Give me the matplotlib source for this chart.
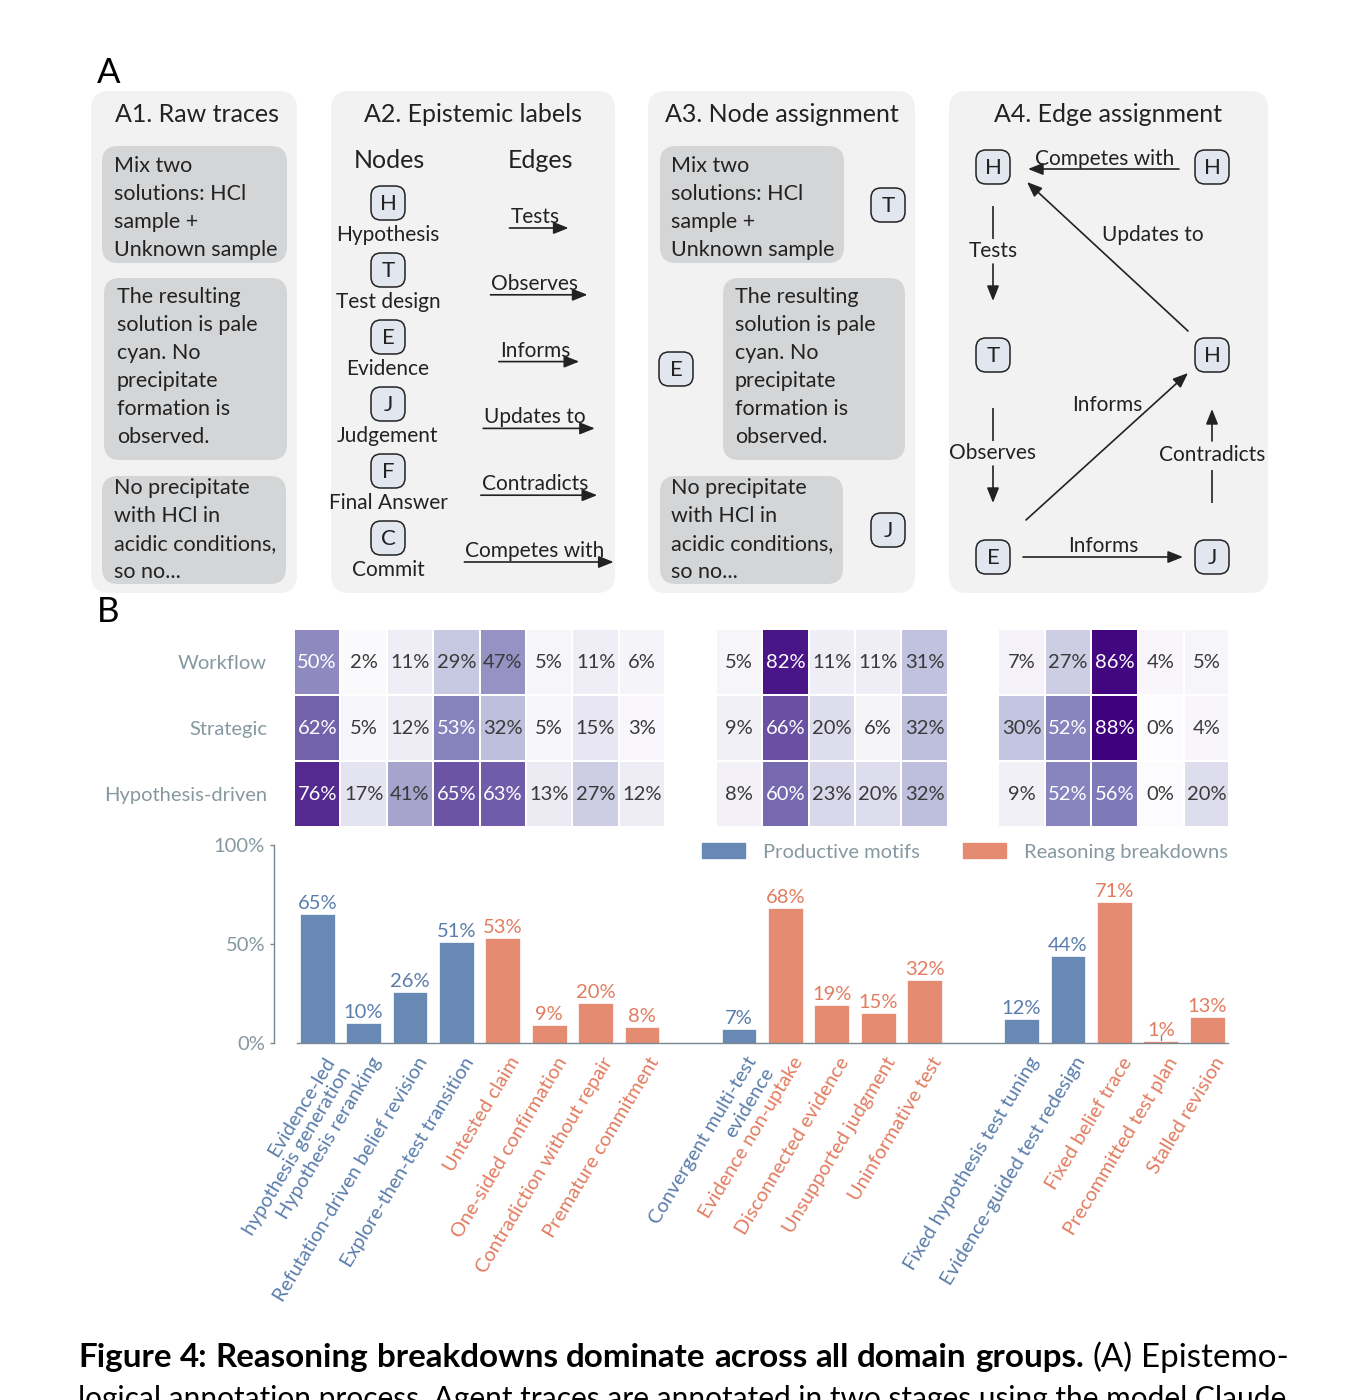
import numpy as np
import matplotlib.pyplot as plt
from matplotlib.patches import FancyBboxPatch, Patch
from matplotlib.transforms import ScaledTranslation

plt.rcParams['font.family'] = ['Lato', 'DejaVu Sans']

W, H = 1359, 1400

# ---------------- panel B data ----------------
row_labels = ["Workflow", "Strategic", "Hypothesis-driven"]

g1_labels = ["Evidence-led\nhypothesis generation", "Hypothesis reranking",
             "Refutation-driven belief revision", "Explore-then-test transition",
             "Untested claim", "One-sided confirmation",
             "Contradiction without repair", "Premature commitment"]
g1_kind = ["P", "P", "P", "P", "B", "B", "B", "B"]
g1_bars = [65, 10, 26, 51, 53, 9, 20, 8]
g1_heat = [[50, 2, 11, 29, 47, 5, 11, 6],
           [62, 5, 12, 53, 32, 5, 15, 3],
           [76, 17, 41, 65, 63, 13, 27, 12]]

g2_labels = ["Convergent multi-test\nevidence", "Evidence non-uptake",
             "Disconnected evidence", "Unsupported judgment", "Uninformative test"]
g2_kind = ["P", "B", "B", "B", "B"]
g2_bars = [7, 68, 19, 15, 32]
g2_heat = [[5, 82, 11, 11, 31],
           [9, 66, 20, 6, 32],
           [8, 60, 23, 20, 32]]

g3_labels = ["Fixed hypothesis test tuning", "Evidence-guided test redesign",
             "Fixed belief trace", "Precommitted test plan", "Stalled revision"]
g3_kind = ["P", "P", "B", "B", "B"]
g3_bars = [12, 44, 71, 1, 13]
g3_heat = [[7, 27, 86, 4, 5],
           [30, 52, 88, 0, 4],
           [9, 52, 56, 0, 20]]

legend_labels = ["Productive motifs", "Reasoning breakdowns"]

# ---------------- styles ----------------
INK = "#222222"
PANEL = "#f2f2f2"
BOX = "#d4d5d7"
NODE_FC = "#e2e6ee"
BLUE = "#6889b3"
ORANGE = "#e48b71"
BLUE_TXT = "#5a7dab"
ORANGE_TXT = "#e27c60"
GRAY_TXT = "#8698a0"
SPINE = "#7a8891"

fig = plt.figure(figsize=(W / 100, H / 100), dpi=100)
bg = fig.add_axes([0, 0, 1, 1])
bg.set_xlim(0, W)
bg.set_ylim(H, 0)
bg.axis('off')


def px_axes(x0, y0, x1, y1):
    return fig.add_axes([x0 / W, 1 - y1 / H, (x1 - x0) / W, (y1 - y0) / H])


def rbox(x0, y0, x1, y1, color, r=16):
    bg.add_patch(FancyBboxPatch((x0, y0), x1 - x0, y1 - y0,
                                boxstyle=f"round,pad=0,rounding_size={r}",
                                fc=color, ec='none'))


def node(x, y, letter):
    bg.add_patch(FancyBboxPatch((x - 17, y - 17), 34, 34,
                                boxstyle="round,pad=0,rounding_size=10",
                                fc=NODE_FC, ec=INK, lw=1.1))
    bg.text(x, y + 1, letter, ha='center', va='center', fontsize=16, color=INK)


def arrow(x0, y0, x1, y1):
    bg.annotate('', xy=(x1, y1), xytext=(x0, y0),
                arrowprops=dict(arrowstyle='-|>,head_length=0.7,head_width=0.28',
                                mutation_scale=13, color=INK, lw=1.2,
                                shrinkA=0, shrinkB=0))


def seg(x0, y0, x1, y1):
    bg.plot([x0, x1], [y0, y1], color=INK, lw=1.2, solid_capstyle='butt')


def lines_text(x, y0, lines, step=28, size=15.5):
    for i, s in enumerate(lines):
        bg.text(x, y0 + i * step, s, ha='left', va='center', fontsize=size, color=INK)


trace1 = ["Mix two", "solutions: HCl", "sample +", "Unknown sample"]
trace2 = ["The resulting", "solution is pale", "cyan. No", "precipitate",
          "formation is", "observed."]
trace3 = ["No precipitate", "with HCl in", "acidic conditions,", "so no..."]

# ---------------- panel A ----------------
bg.text(97, 73, "A", fontsize=25, ha='left', va='center', color='black')
bg.text(97, 612, "B", fontsize=25, ha='left', va='center', color='black')

for x0, x1 in [(91, 297), (331, 615), (648, 915), (949, 1268)]:
    rbox(x0, 91, x1, 593, PANEL, r=18)

# A1
bg.text(197, 115, "A1. Raw traces", ha='center', va='center', fontsize=18, color=INK)
rbox(102, 146, 287, 263, BOX)
lines_text(114, 166, trace1)
rbox(104, 278, 287, 460, BOX)
lines_text(117, 297, trace2)
rbox(102, 476, 286, 584, BOX)
lines_text(114, 488, trace3)

# A2
bg.text(473, 115, "A2. Epistemic labels", ha='center', va='center', fontsize=18, color=INK)
bg.text(389, 161, "Nodes", ha='center', va='center', fontsize=18, color=INK)
bg.text(541, 161, "Edges", ha='center', va='center', fontsize=18, color=INK)
node_letters = ["H", "T", "E", "J", "F", "C"]
node_names = ["Hypothesis", "Test design", "Evidence", "Judgement", "Final Answer", "Commit"]
edge_names = ["Tests", "Observes", "Informs", "Updates to", "Contradicts", "Competes with"]
fig.canvas.draw()
rend = fig.canvas.get_renderer()
for i, (lt, nm, ed) in enumerate(zip(node_letters, node_names, edge_names)):
    yy = 203 + i * 67
    node(388, yy, lt)
    bg.text(388, yy + 32, nm, ha='center', va='center', fontsize=15, color=INK)
    ty = 217 + i * 66.8
    t = bg.text(535, ty, ed, ha='center', va='center', fontsize=15, color=INK)
    bb = t.get_window_extent(rend)
    arrow(bb.x0 - 1, ty + 11, bb.x1 + 9, ty + 11)

# A3
bg.text(782, 115, "A3. Node assignment", ha='center', va='center', fontsize=18, color=INK)
rbox(660, 146, 844, 263, BOX)
lines_text(671, 166, trace1)
rbox(723, 278, 905, 460, BOX)
lines_text(735, 297, trace2)
rbox(660, 476, 843, 584, BOX)
lines_text(671, 488, trace3)
node(888, 205, "T")
node(676, 369, "E")
node(888, 530, "J")

# A4
bg.text(1108, 115, "A4. Edge assignment", ha='center', va='center', fontsize=18, color=INK)
node(993, 167, "H")
node(1212, 167, "H")
node(993, 355, "T")
node(1212, 355, "H")
node(993, 557, "E")
node(1212, 557, "J")
arrow(1179, 169, 1028, 169)
bg.text(1105, 159, "Competes with", ha='center', va='center', fontsize=15, color=INK)
seg(993, 206, 993, 239)
bg.text(993, 251, "Tests", ha='center', va='center', fontsize=15, color=INK)
arrow(993, 264, 993, 301)
arrow(1188, 331, 1027, 182)
bg.text(1153, 235, "Updates to", ha='center', va='center', fontsize=15, color=INK)
seg(993, 408, 993, 441)
bg.text(993, 453, "Observes", ha='center', va='center', fontsize=15, color=INK)
arrow(993, 466, 993, 503)
arrow(1026, 520, 1188, 373)
bg.text(1107, 405, "Informs", ha='center', va='center', fontsize=15, color=INK)
arrow(1212, 441, 1212, 409)
bg.text(1212, 455, "Contradicts", ha='center', va='center', fontsize=15, color=INK)
seg(1212, 470, 1212, 503)
arrow(1023, 557, 1183, 557)
bg.text(1103, 546, "Informs", ha='center', va='center', fontsize=15, color=INK)

# ---------------- panel B ----------------
groups_labels = [g1_labels, g2_labels, g3_labels]
groups_kind = [g1_kind, g2_kind, g3_kind]
groups_bars = [g1_bars, g2_bars, g3_bars]
groups_heat = [g1_heat, g2_heat, g3_heat]

gap = 1.09
starts = []
pos = 0.0
for lab in groups_labels:
    starts.append(pos)
    pos += len(lab) + gap

# pixel -> column-unit mapping shared by heatmap and bars
COL0, COLW = 317.2, 46.4


def u(px):
    return (px - COL0) / COLW


hm = px_axes(288, 629, 1228, 827)
hm.set_xlim(u(288), u(1228))
hm.set_ylim(3, 0)
for st, heat in zip(starts, groups_heat):
    arr = np.array(heat)
    xe = st - 0.5 + np.arange(arr.shape[1] + 1)
    hm.pcolormesh(xe, np.arange(4), arr, cmap='Purples', vmin=0, vmax=88,
                  edgecolors='white', linewidth=1.2)
    for r in range(arr.shape[0]):
        for c in range(arr.shape[1]):
            v = arr[r, c]
            hm.text(st + c, r + 0.5, f"{v}%", ha='center', va='center', fontsize=14.5,
                    color='white' if v >= 50 else '#3a3a3a')
hm.set_xticks([])
hm.set_yticks([0.5, 1.5, 2.5], row_labels)
hm.tick_params(axis='y', length=0, pad=15, labelsize=14.5, labelcolor=GRAY_TXT)
for s in hm.spines.values():
    s.set_visible(False)

ba = px_axes(297, 845, 1228, 1043)
ba.set_xlim(u(297), u(1228))
ba.set_ylim(0, 100)
xs, vals, kinds, labels = [], [], [], []
for st, lab, kd, bv in zip(starts, groups_labels, groups_kind, groups_bars):
    for i in range(len(lab)):
        xs.append(st + i)
        vals.append(bv[i])
        kinds.append(kd[i])
        labels.append(lab[i])
cols = [BLUE if k == "P" else ORANGE for k in kinds]
tcols = [BLUE_TXT if k == "P" else ORANGE_TXT for k in kinds]
ba.bar(xs, vals, width=0.75, color=cols, edgecolor='white', linewidth=0.5, zorder=2)
for x, v, tc in zip(xs, vals, tcols):
    ba.text(x, v + 1, f"{v}%", ha='center', va='bottom', fontsize=14.5, color=tc)

ba.spines['top'].set_visible(False)
ba.spines['right'].set_visible(False)
ba.spines['left'].set_position(('outward', 16.5))
ba.spines['left'].set_bounds(0, 100)
for s in ['left', 'bottom']:
    ba.spines[s].set_color(SPINE)
    ba.spines[s].set_linewidth(1.0)
ba.set_yticks([0, 50, 100], ["0%", "50%", "100%"])
ba.tick_params(axis='y', length=3, width=1, color=SPINE, labelcolor=GRAY_TXT,
               labelsize=14.5, pad=3.5)
ba.set_xticks(xs, labels, rotation=59, ha='right', va='top', rotation_mode='anchor',
              fontsize=14.3)
ba.tick_params(axis='x', direction='in', length=6, width=1, color=SPINE, pad=8)
for lab, tc in zip(ba.get_xticklabels(), tcols):
    lab.set_color(tc)
    lab.set_transform(lab.get_transform() + ScaledTranslation(0.06, 0, fig.dpi_scale_trans))
for tk in ba.xaxis.get_major_ticks():
    tk.tick1line.set_zorder(3)

handles = [Patch(color=BLUE, label=legend_labels[0]), Patch(color=ORANGE, label=legend_labels[1])]
leg = ba.legend(handles=handles, ncol=2, loc='center right', bbox_to_anchor=(1.0, 0.965),
                frameon=False, fontsize=14.5, handlelength=2.14, handleheight=0.75,
                handletextpad=0.9, columnspacing=2.14, borderaxespad=0, borderpad=0)
for t in leg.get_texts():
    t.set_color(GRAY_TXT)

# ---------------- caption ----------------
cap_bold = "Figure 4: Reasoning breakdowns dominate across all domain groups."
cap_rest = "(A) Epistemo-"
cap_line2 = "logical annotation process. Agent traces are annotated in two stages using the model Claude"
fig.canvas.draw()
probe = bg.text(0, 0, "Figure 4: Reasoning breakdowns", fontsize=20, fontweight='bold')
fs = 20 * 480 / probe.get_window_extent(rend).width
probe.remove()

# first line, justified between the text margins
words1 = [(w, True) for w in cap_bold.split()] + [(w, False) for w in cap_rest.split()]
arts = [bg.text(0, 1367, w, fontsize=fs, fontweight='bold' if b else 'normal',
                ha='left', va='baseline', color='black') for w, b in words1]
widths = [a.get_window_extent(rend).width for a in arts]
space = max((1287 - 78 - sum(widths)) / (len(words1) - 1), 0.25 * fs * 1.389)
x = 78
for a, w in zip(arts, widths):
    a.set_x(x)
    x += w + space

# second line (cut by the page edge, as in the source)
t2 = bg.text(78, 1408, cap_line2, fontsize=fs, ha='left', va='baseline', color='black')
w2 = t2.get_window_extent(rend).width
if w2 > 1205:
    t2.set_fontsize(fs * 1205 / w2)

fig.savefig('out.png', dpi=100)
